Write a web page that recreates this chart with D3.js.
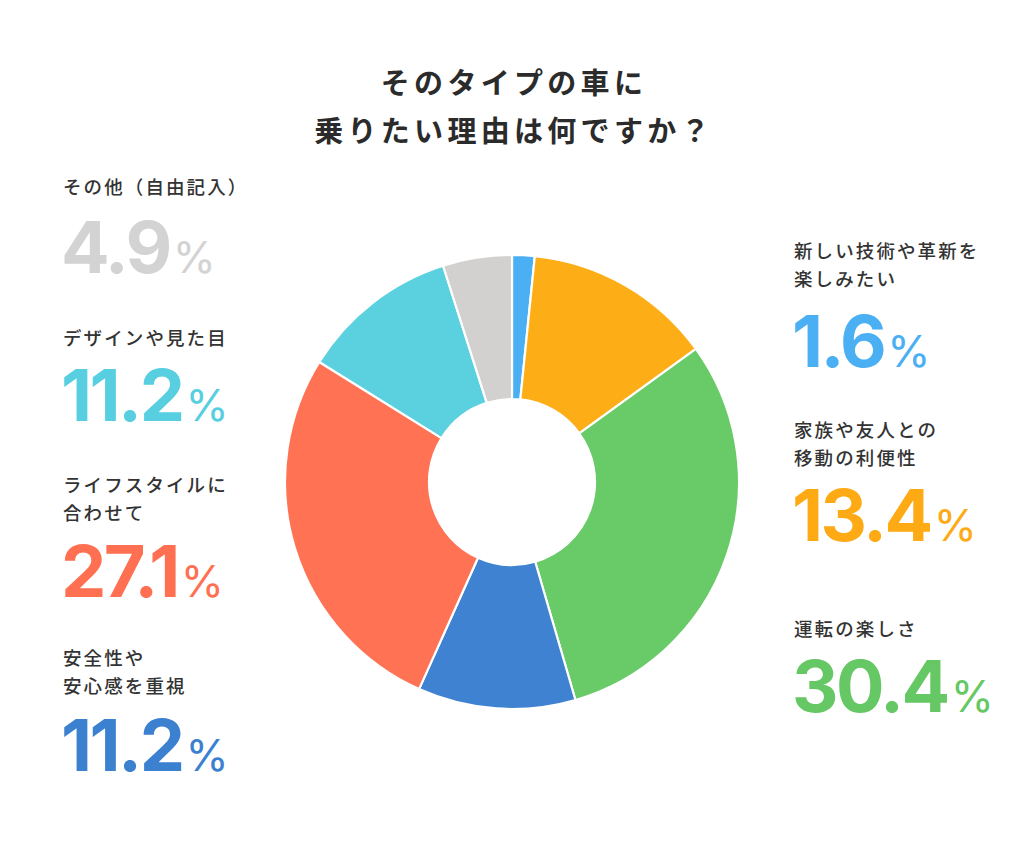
<!DOCTYPE html>
<html>
<head>
<meta charset="utf-8">
<script src="https://cdn.jsdelivr.net/npm/d3@7"></script>
<style>
  body { margin: 0; background: #fff; }
  svg { display: block; }
</style>
</head>
<body>
<svg id="chart" width="1024" height="853"></svg>
<script>

// data, clockwise from the top
var categories = ["新しい技術や革新を\n楽しみたい", "家族や友人との\n移動の利便性", "運転の楽しさ",
    "安全性や\n安心感を重視", "ライフスタイルに\n合わせて", "デザインや見た目", "その他（自由記入）"];
var values = [1.6, 13.4, 30.4, 11.2, 27.1, 11.2, 4.9];
var colors = ["#4aaff3", "#fdae17", "#69ca68", "#3f82d1", "#ff7254", "#5bd1e0", "#d2d1cf"];
var textColors = ["#4aaff3", "#fdaa14", "#66c765", "#3c80d0", "#ff7052", "#57cfe0", "#d3d3d3"];
var titleLines = ["そのタイプの車に", "乗りたい理由は何ですか？"];

var svg = d3.select("#chart");
var jpFont = "'Noto Sans CJK JP', 'Noto Sans', sans-serif";
var numFont = "Inter, 'Noto Sans', sans-serif";

// title
svg.selectAll("text.title")
    .data(titleLines)
    .enter().append("text")
    .attr("class", "title")
    .attr("x", 514)
    .attr("y", function (d, i) { return 94 + i * 48; })
    .attr("text-anchor", "middle")
    .attr("font-family", jpFont)
    .attr("font-size", 29)
    .attr("font-weight", 700)
    .attr("letter-spacing", 4.3)
    .attr("fill", "#2b2b2b")
    .text(function (d) { return d; });

// donut
var cx = 512, cy = 482, outerR = 227, innerR = 83;

var pie = d3.pie().sort(null).value(function (d) { return d; });
var arc = d3.arc().innerRadius(innerR).outerRadius(outerR);

var g = svg.append("g").attr("transform", "translate(" + cx + "," + cy + ")");

g.selectAll("path")
    .data(pie(values))
    .enter().append("path")
    .attr("d", arc)
    .attr("fill", function (d, i) { return colors[i]; })
    .attr("stroke", "#fff")
    .attr("stroke-width", 2.2)
    .attr("stroke-linejoin", "round");

// label blocks: x, label baseline, number baseline
var layout = [
    {x: 794, y: 258, ny: 367},
    {x: 794, y: 437, ny: 541},
    {x: 794, y: 636, ny: 712},
    {x: 63, y: 665, ny: 771},
    {x: 63, y: 492, ny: 597},
    {x: 63, y: 345, ny: 421},
    {x: 63, y: 194, ny: 273}
];

var labels = svg.selectAll("g.label")
    .data(values)
    .enter().append("g")
    .attr("class", "label");

labels.each(function (d, i) {
    var sel = d3.select(this);
    var pos = layout[i];
    var lines = categories[i].split("\n");

    sel.selectAll("text.cat")
        .data(lines)
        .enter().append("text")
        .attr("class", "cat")
        .attr("x", pos.x)
        .attr("y", function (l, j) { return pos.y + j * 28; })
        .attr("font-family", jpFont)
        .attr("font-size", 18.5)
        .attr("font-weight", 500)
        .attr("letter-spacing", 2.1)
        .attr("fill", "#333")
        .text(function (l) { return l; });

    var num = sel.append("text")
        .attr("x", pos.x - 2)
        .attr("y", pos.ny)
        .attr("font-family", numFont)
        .attr("fill", textColors[i]);

    num.append("tspan")
        .attr("font-size", 72)
        .attr("font-weight", 700)
        .attr("letter-spacing", -2.5)
        .text(d3.format(".1f")(d));

    num.append("tspan")
        .attr("dx", 3)
        .attr("font-size", 44)
        .attr("font-weight", 400)
        .text("%");
});

</script>
</body>
</html>
